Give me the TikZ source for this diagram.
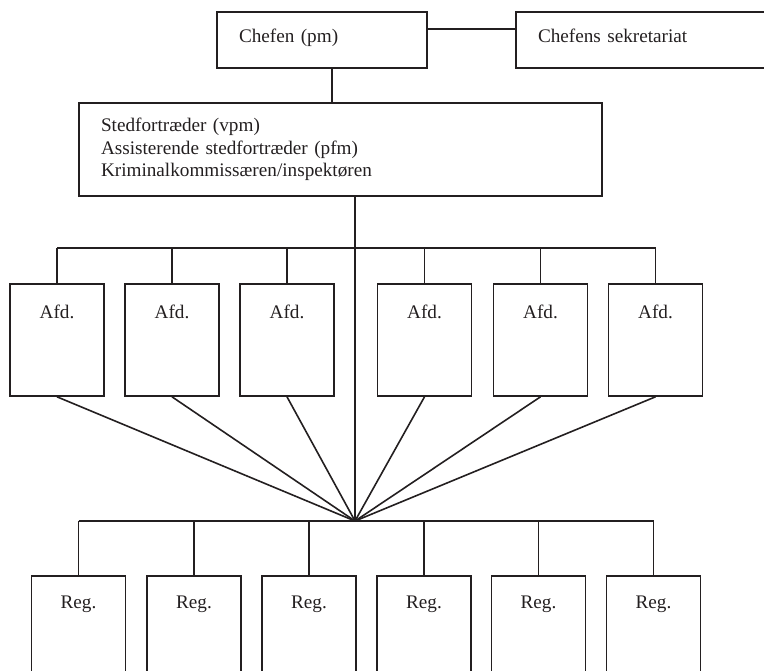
\documentclass[tikz,border=0pt]{standalone}
\usepackage{xcolor}
\usepackage{fontspec}
\setmainfont{Liberation Serif}
\usepackage{tikz}
\usetikzlibrary{positioning}

\definecolor{orgline}{HTML}{231F20}

\begin{document}
\begin{tikzpicture}[
    x=0.5pt, y=-0.5pt,
    every node/.style={font=\fontsize{9.6}{11.25}\selectfont, text=orgline},
    topbox/.style={rectangle, draw=orgline, line width=0.8pt, inner xsep=11pt, inner ysep=0pt, text height=15pt, text depth=13pt, align=left},
    staffbox/.style={rectangle, draw=orgline, line width=0.8pt, inner xsep=11pt, inner ysep=0pt, text width=239.5pt, minimum height=46.5pt, align=left},
    afdbox/.style={rectangle, draw=orgline, line width=0.8pt, minimum width=47pt, inner sep=0pt, text height=17pt, text depth=39pt},
    regbox/.style={rectangle, draw=orgline, line width=0.8pt, minimum width=47pt, inner sep=0pt, text height=16pt, text depth=56pt},
    orgline/.style={draw=orgline, line width=0.8pt}
]
\useasboundingbox (0,0) rectangle (764,670);
\clip (0,0) rectangle (764,670);

% Top: chief and secretariat
\node[topbox, text width=83pt] (chef) at (322,40) {Chefen (pm)};
\node[topbox, text width=128pt] (sek) at (666,40) {Chefens sekretariat};

% Deputies
\node[staffbox] (vpm) at (340.5,149.5) {
    Stedfortræder (vpm)\\
    Assisterende stedfortræder (pfm)\\
    Kriminalkommissæren/inspektøren
};

% Departments
\node[afdbox] (afd1) at (57,340) {Afd.};
\node[afdbox] (afd2) at (172,340) {Afd.};
\node[afdbox] (afd3) at (287,340) {Afd.};
\node[afdbox] (afd4) at (424.5,340) {Afd.};
\node[afdbox] (afd5) at (540.5,340) {Afd.};
\node[afdbox] (afd6) at (655.5,340) {Afd.};

% Regions
\node[regbox] (reg1) at (78.5,648) {Reg.};
\node[regbox] (reg2) at (194,648) {Reg.};
\node[regbox] (reg3) at (309,648) {Reg.};
\node[regbox] (reg4) at (424,648) {Reg.};
\node[regbox] (reg5) at (538.5,648) {Reg.};
\node[regbox] (reg6) at (653.5,648) {Reg.};

% Junctions
\coordinate (hub) at (355,521);
\coordinate (afdbus) at (355,248);

% Lines
\draw[orgline] ([yshift=5.5pt]chef.east) -- ([yshift=5.5pt]sek.west);
\draw[orgline] ([xshift=5pt]chef.south) -- ([xshift=5pt]chef.south |- vpm.north);
\draw[orgline] (vpm.south -| hub) -- (hub);
\draw[orgline] (afd1.north |- afdbus) -- (afd6.north |- afdbus);
\draw[orgline] (afd1.north |- afdbus) -- (afd1.north);
\draw[orgline] (afd2.north |- afdbus) -- (afd2.north);
\draw[orgline] (afd3.north |- afdbus) -- (afd3.north);
\draw[orgline] (afd4.north |- afdbus) -- (afd4.north);
\draw[orgline] (afd5.north |- afdbus) -- (afd5.north);
\draw[orgline] (afd6.north |- afdbus) -- (afd6.north);
\draw[orgline] (afd1.south) -- (hub);
\draw[orgline] (afd2.south) -- (hub);
\draw[orgline] (afd3.south) -- (hub);
\draw[orgline] (afd4.south) -- (hub);
\draw[orgline] (afd5.south) -- (hub);
\draw[orgline] (afd6.south) -- (hub);
\draw[orgline] (reg1.north |- hub) -- (reg6.north |- hub);
\draw[orgline] (reg1.north |- hub) -- (reg1.north);
\draw[orgline] (reg2.north |- hub) -- (reg2.north);
\draw[orgline] (reg3.north |- hub) -- (reg3.north);
\draw[orgline] (reg4.north |- hub) -- (reg4.north);
\draw[orgline] (reg5.north |- hub) -- (reg5.north);
\draw[orgline] (reg6.north |- hub) -- (reg6.north);

\end{tikzpicture}
\end{document}
